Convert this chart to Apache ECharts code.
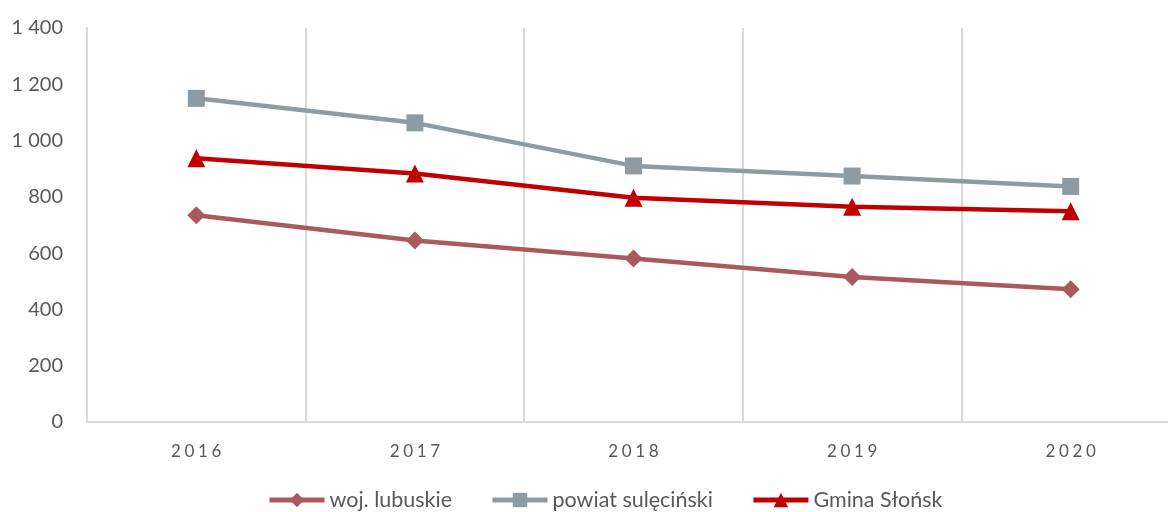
<!DOCTYPE html>
<html>
<head>
<meta charset="utf-8">
<script src="https://cdn.jsdelivr.net/npm/echarts@6/dist/echarts.min.js"></script>
<style>
  html, body { margin: 0; padding: 0; background: #fff; }
  #main { width: 1168px; height: 512px; }
</style>
</head>
<body>
<div id="main"></div>
<script>
var years = ['2016', '2017', '2018', '2019', '2020'];
var wojLubuskie = [735, 645, 581, 515, 472];
var powiatSulecinski = [1150, 1063, 910, 874, 837];
var gminaSlonsk = [937, 883, 797, 765, 749];

var fontName = 'Lato, "Noto Sans", sans-serif';

var myChart = echarts.init(document.getElementById('main'));

// spread year digits apart like the original's letter spacing
function spaced(v) {
    return v.split('').map(function (c) { return '{d|' + c + '}'; }).join('');
}

var option = {
    animation: false,
    backgroundColor: '#ffffff',
    textStyle: { fontFamily: fontName },
    legend: {
        left: 267,
        top: 489,
        padding: 0,
        itemWidth: 55,
        itemHeight: 18,
        itemGap: 38,
        lineStyle: { width: 5 },
        textStyle: { fontSize: 21.5, color: '#595959', fontFamily: fontName },
        data: ['woj. lubuskie', 'powiat sulęciński', 'Gmina Słońsk']
    },
    grid: { left: 87, top: 28, bottom: 90, width: 1093, outerBoundsMode: 'none' },
    xAxis: {
        type: 'category',
        data: years,
        boundaryGap: true,
        axisLine: { lineStyle: { color: '#D9D9D9', width: 2 } },
        axisTick: { show: false },
        axisLabel: {
            color: '#595959',
            margin: 21,
            formatter: spaced,
            rich: {
                d: { fontSize: 17, width: 13.5, align: 'center', color: '#595959', fontFamily: fontName }
            }
        },
        splitLine: { show: true, lineStyle: { color: '#D9D9D9', width: 2 } }
    },
    yAxis: {
        type: 'value',
        min: 0,
        max: 1400,
        interval: 200,
        axisLine: { show: true, lineStyle: { color: '#D9D9D9', width: 2 } },
        axisTick: { show: false },
        splitLine: { show: false },
        axisLabel: {
            color: '#595959',
            fontSize: 20,
            margin: 24,
            fontFamily: fontName,
            formatter: function (v) {
                return String(v).replace(/\B(?=(\d{3})+(?!\d))/g, ' ');
            }
        }
    },
    series: [
        {
            name: 'woj. lubuskie',
            type: 'line',
            data: wojLubuskie,
            symbol: 'diamond',
            symbolSize: 18,
            itemStyle: { color: '#AA5A5C' },
            lineStyle: { color: '#AA5A5C', width: 4.5 }
        },
        {
            name: 'powiat sulęciński',
            type: 'line',
            data: powiatSulecinski,
            symbol: 'rect',
            symbolSize: 17,
            itemStyle: { color: '#8E9BA2' },
            lineStyle: { color: '#8E9BA2', width: 4.5 }
        },
        {
            name: 'Gmina Słońsk',
            type: 'line',
            data: gminaSlonsk,
            symbol: 'triangle',
            symbolSize: 18,
            itemStyle: { color: '#C00000' },
            lineStyle: { color: '#C00000', width: 4.5 }
        }
    ]
};

myChart.setOption(option);
</script>
</body>
</html>
